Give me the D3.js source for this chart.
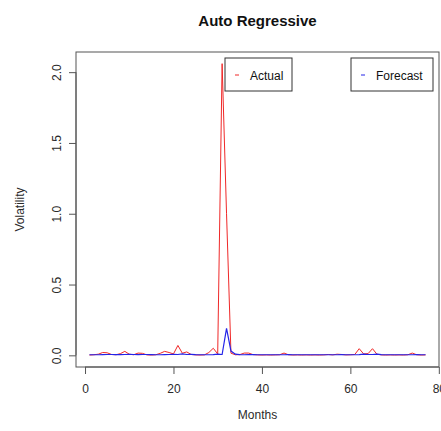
<!DOCTYPE html>
<html>
<head>
<meta charset="utf-8">
<script src="https://cdn.jsdelivr.net/npm/d3@7"></script>
<style>
  html, body { margin: 0; padding: 0; background: #fff; }
  svg { display: block; font-family: "Liberation Sans", Arial, sans-serif; }
</style>
</head>
<body>
<svg id="chart" width="441" height="431"></svg>
<script>
// Monthly volatility: observed values and autoregressive forecast
const months = d3.range(1, 78);
const actual = [
  0.002, 0.004, 0.008, 0.020, 0.018, 0.006, 0.004, 0.012, 0.028, 0.008,
  0.004, 0.016, 0.014, 0.003, 0.002, 0.004, 0.014, 0.028, 0.020, 0.010,
  0.070, 0.015, 0.024, 0.006, 0.003, 0.002, 0.003, 0.020, 0.050, 0.010,
  2.060, 1.000, 0.015, 0.004, 0.005, 0.016, 0.016, 0.005, 0.003, 0.002,
  0.003, 0.002, 0.003, 0.004, 0.016, 0.004, 0.002, 0.003, 0.002, 0.003,
  0.002, 0.003, 0.002, 0.003, 0.006, 0.003, 0.008, 0.006, 0.003, 0.004,
  0.006, 0.047, 0.010, 0.012, 0.047, 0.008, 0.003, 0.002, 0.003, 0.002,
  0.003, 0.002, 0.004, 0.016, 0.004, 0.002, 0.003
];
const forecast = [
  0.004, 0.004, 0.004, 0.005, 0.006, 0.006, 0.005, 0.005, 0.006, 0.007,
  0.006, 0.005, 0.006, 0.006, 0.005, 0.004, 0.004, 0.005, 0.006, 0.007,
  0.006, 0.010, 0.006, 0.007, 0.005, 0.004, 0.004, 0.004, 0.005, 0.008,
  0.006, 0.190, 0.030, 0.008, 0.005, 0.004, 0.005, 0.005, 0.004, 0.004,
  0.004, 0.004, 0.004, 0.004, 0.004, 0.005, 0.004, 0.004, 0.004, 0.004,
  0.004, 0.004, 0.004, 0.004, 0.004, 0.004, 0.004, 0.005, 0.004, 0.004,
  0.004, 0.005, 0.008, 0.006, 0.006, 0.008, 0.005, 0.004, 0.004, 0.004,
  0.004, 0.004, 0.004, 0.004, 0.005, 0.004, 0.004
];
const xTicks = [0, 20, 40, 60, 80];
const yTicks = [0, 0.5, 1.0, 1.5, 2.0];
const seriesNames = ["Actual", "Forecast"];
const seriesColors = ["#f02828", "#2424e8"];

const svg = d3.select("#chart");
const box = { left: 76, right: 439, top: 52, bottom: 367 };

// Domains padded 4% beyond the data range, as in base R graphics
const xMin = d3.min(months), xMax = d3.max(months);
const yMin = 0, yMax = d3.max(actual);
const xPad = (xMax - xMin) * 0.04, yPad = (yMax - yMin) * 0.04;
const x = d3.scaleLinear().domain([xMin - xPad, xMax + xPad]).range([box.left, box.right]);
const y = d3.scaleLinear().domain([yMin - yPad, yMax + yPad]).range([box.bottom, box.top]);

const ink = "#2a2a2a";
const frame = "#555";

// Plot frame
svg.append("rect")
  .attr("x", box.left).attr("y", box.top)
  .attr("width", box.right - box.left).attr("height", box.bottom - box.top)
  .attr("fill", "none").attr("stroke", frame).attr("stroke-width", 1);

// X axis (the last label runs past the right edge of the page)
const xAxis = svg.append("g")
  .attr("transform", `translate(0,${box.bottom})`)
  .call(d3.axisBottom(x).tickValues(xTicks).tickSize(7).tickPadding(10).tickFormat(d3.format("d")));
xAxis.select(".domain").attr("stroke", frame)
  .attr("d", `M${x(xTicks[0])},0H${x(xTicks[xTicks.length - 1])}`);
xAxis.selectAll(".tick line").attr("stroke", frame);
xAxis.selectAll(".tick text").attr("fill", ink).attr("font-size", 12)
  .attr("font-family", "Liberation Sans, Arial, sans-serif");

// Y axis with rotated labels
const yAxis = svg.append("g")
  .attr("transform", `translate(${box.left},0)`)
  .call(d3.axisLeft(y).tickValues(yTicks).tickSize(7).tickFormat(d3.format(".1f")));
yAxis.select(".domain").attr("stroke", frame)
  .attr("d", `M0,${y(yTicks[0])}V${y(yTicks[yTicks.length - 1])}`);
yAxis.selectAll(".tick line").attr("stroke", frame);
yAxis.selectAll(".tick text")
  .attr("fill", ink).attr("font-size", 12)
  .attr("font-family", "Liberation Sans, Arial, sans-serif")
  .attr("x", null).attr("dy", null)
  .attr("text-anchor", "middle")
  .attr("transform", "translate(-15,0) rotate(-90)");

// Series lines
const line = (vals) => d3.line().x((d, i) => x(months[i])).y(d => y(d))(vals);
svg.append("path").attr("d", line(actual))
  .attr("fill", "none").attr("stroke", seriesColors[0]).attr("stroke-width", 1);
svg.append("path").attr("d", line(forecast))
  .attr("fill", "none").attr("stroke", seriesColors[1]).attr("stroke-width", 1.2);

// Legend boxes
const legends = [
  { x: 225, w: 67 },
  { x: 351, w: 82 }
];
legends.forEach((lg, i) => {
  const g = svg.append("g").attr("transform", `translate(${lg.x},58)`);
  g.append("rect").attr("width", lg.w).attr("height", 33)
    .attr("fill", "#fff").attr("stroke", "#333").attr("stroke-width", 1);
  g.append("line").attr("x1", 10).attr("x2", 14).attr("y1", 17).attr("y2", 17)
    .attr("stroke", seriesColors[i]).attr("stroke-width", 1);
  g.append("text").attr("x", 25).attr("y", 21.5)
    .attr("font-size", 12).attr("fill", "#111").text(seriesNames[i]);
});

// Title and axis titles
const cx = (box.left + box.right) / 2;
svg.append("text").attr("x", cx).attr("y", 26).attr("text-anchor", "middle")
  .attr("font-size", 15).attr("font-weight", "bold").attr("fill", "#111")
  .text("Auto Regressive");
svg.append("text").attr("x", cx).attr("y", 419).attr("text-anchor", "middle")
  .attr("font-size", 12).attr("fill", ink).text("Months");
svg.append("text")
  .attr("transform", `translate(24,${(box.top + box.bottom) / 2}) rotate(-90)`)
  .attr("text-anchor", "middle").attr("font-size", 12).attr("fill", ink)
  .text("Volatility");
</script>
</body>
</html>
